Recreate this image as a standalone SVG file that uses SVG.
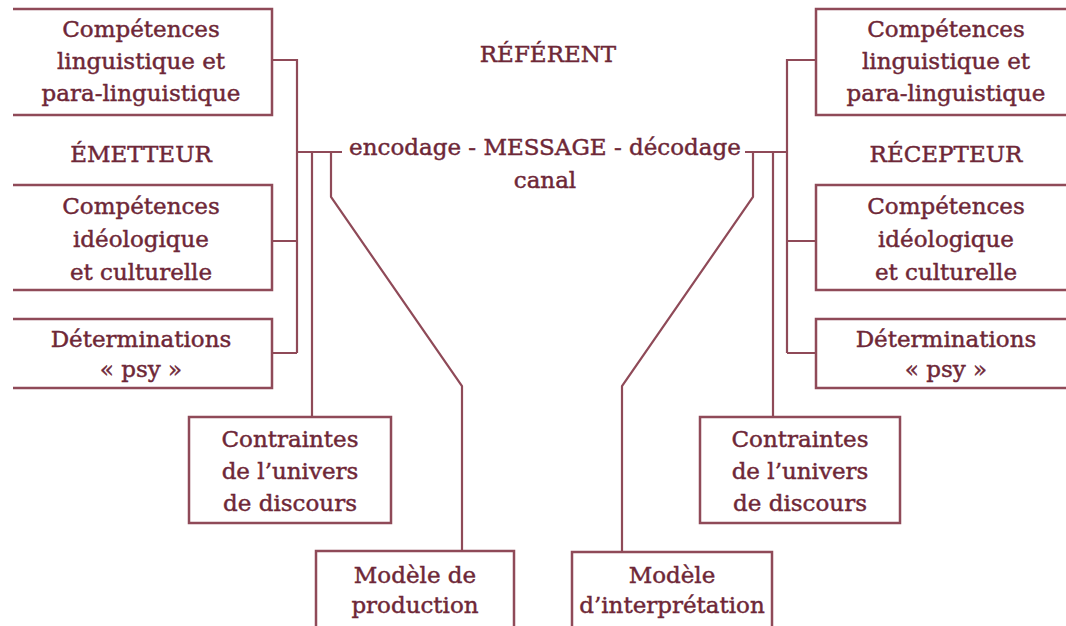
<svg xmlns="http://www.w3.org/2000/svg" width="1066" height="626" viewBox="0 0 1066 626">
<style>
.t{font-family:"DejaVu Serif","Liberation Serif",serif;font-size:23px;fill:#6e2737;stroke:#6e2737;stroke-width:0.45;text-anchor:middle}
.b{fill:none;stroke:#8f4a58;stroke-width:2.5}
.c{fill:none;stroke:#8f4a58;stroke-width:2.2}
</style>
<rect width="1066" height="626" fill="#ffffff"/>
<g id="connectors">
<path class="c" d="M272 60H297V353M272 241H297M272 353H297M297 152H342M312 152V417M331 152V197L462 386V551"/>
<path class="c" d="M816 60H787V353M816 241H787M816 353H787M787 152H745M773 152V417M753 152V197L622 386V552"/>
</g>
<g id="referent"><text class="t" x="548" y="62">RÉFÉRENT</text></g>
<g id="message"><text class="t" x="545" y="155">encodage - MESSAGE - décodage</text><text class="t" x="545" y="188">canal</text></g>
<g id="emetteur"><text class="t" x="141" y="162">ÉMETTEUR</text></g>
<g id="recepteur"><text class="t" x="946" y="162">RÉCEPTEUR</text></g>
<g id="e-ling"><path class="b" d="M13 9H272V115H13"/><text class="t" x="141" y="37">Compétences</text><text class="t" x="141" y="69">linguistique et</text><text class="t" x="141" y="101">para-linguistique</text></g>
<g id="e-ideo"><path class="b" d="M13 185H272V290H13"/><text class="t" x="141" y="214">Compétences</text><text class="t" x="141" y="247">idéologique</text><text class="t" x="141" y="280">et culturelle</text></g>
<g id="e-psy"><path class="b" d="M13 319H272V388H13"/><text class="t" x="141" y="347">Déterminations</text><text class="t" x="141" y="377">« psy »</text></g>
<g id="r-ling"><path class="b" d="M1070 9H816V115H1070"/><text class="t" x="946" y="37">Compétences</text><text class="t" x="946" y="69">linguistique et</text><text class="t" x="946" y="101">para-linguistique</text></g>
<g id="r-ideo"><path class="b" d="M1070 185H816V290H1070"/><text class="t" x="946" y="214">Compétences</text><text class="t" x="946" y="247">idéologique</text><text class="t" x="946" y="280">et culturelle</text></g>
<g id="r-psy"><path class="b" d="M1070 319H816V388H1070"/><text class="t" x="946" y="347">Déterminations</text><text class="t" x="946" y="377">« psy »</text></g>
<g id="e-contraintes"><rect class="b" x="189" y="417" width="202" height="106"/><text class="t" x="290" y="447">Contraintes</text><text class="t" x="290" y="479">de l’univers</text><text class="t" x="290" y="511">de discours</text></g>
<g id="r-contraintes"><rect class="b" x="700" y="417" width="200" height="106"/><text class="t" x="800" y="447">Contraintes</text><text class="t" x="800" y="479">de l’univers</text><text class="t" x="800" y="511">de discours</text></g>
<g id="production"><path class="b" d="M316 630V551H514V630"/><text class="t" x="415" y="583">Modèle de</text><text class="t" x="415" y="613">production</text></g>
<g id="interpretation"><path class="b" d="M572 630V552H772V630"/><text class="t" x="672" y="583">Modèle</text><text class="t" x="672" y="613">d’interprétation</text></g>
</svg>
